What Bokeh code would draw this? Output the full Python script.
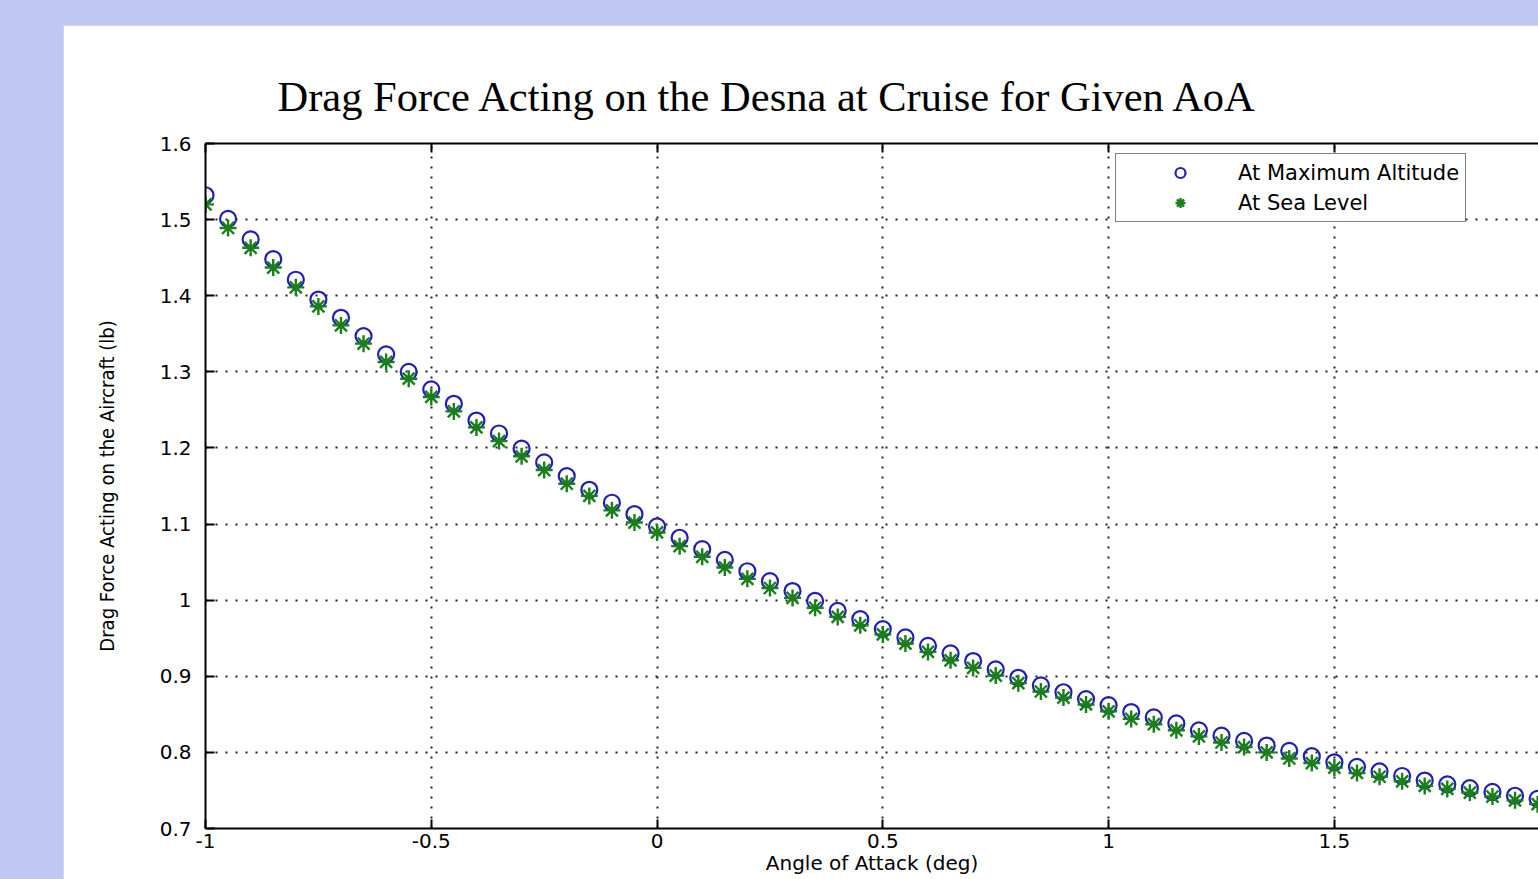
from bokeh.plotting import figure
from bokeh.layouts import row, column
from bokeh.models import (LinearAxis, FixedTicker, Legend, LegendItem,
                          Range1d, Spacer)
from bokeh.embed import file_html
from bokeh.resources import INLINE

# ---------------- data ----------------
aoa = [-1.00, -0.95, -0.90, -0.85, -0.80, -0.75, -0.70, -0.65, -0.60, -0.55,
       -0.50, -0.45, -0.40, -0.35, -0.30, -0.25, -0.20, -0.15, -0.10, -0.05,
       0.00, 0.05, 0.10, 0.15, 0.20, 0.25, 0.30, 0.35, 0.40, 0.45,
       0.50, 0.55, 0.60, 0.65, 0.70, 0.75, 0.80, 0.85, 0.90, 0.95,
       1.00, 1.05, 1.10, 1.15, 1.20, 1.25, 1.30, 1.35, 1.40, 1.45,
       1.50, 1.55, 1.60, 1.65, 1.70, 1.75, 1.80, 1.85, 1.90, 1.95]

drag_max_alt = [1.532, 1.501, 1.474, 1.448, 1.421, 1.395, 1.371, 1.347, 1.323, 1.300,
                1.277, 1.258, 1.236, 1.219, 1.199, 1.181, 1.163, 1.145, 1.128, 1.113,
                1.097, 1.082, 1.067, 1.053, 1.038, 1.025, 1.012, 0.999, 0.986, 0.975,
                0.962, 0.951, 0.940, 0.930, 0.920, 0.909, 0.898, 0.888, 0.879, 0.870,
                0.862, 0.853, 0.846, 0.838, 0.829, 0.822, 0.815, 0.809, 0.802, 0.795,
                0.787, 0.781, 0.775, 0.769, 0.763, 0.758, 0.753, 0.748, 0.743, 0.739]

drag_sea_level = [1.520, 1.489, 1.463, 1.437, 1.411, 1.386, 1.361, 1.337, 1.313, 1.291,
                  1.267, 1.248, 1.227, 1.209, 1.189, 1.171, 1.153, 1.137, 1.118, 1.102,
                  1.089, 1.071, 1.057, 1.043, 1.028, 1.016, 1.003, 0.990, 0.978, 0.967,
                  0.955, 0.943, 0.932, 0.921, 0.911, 0.901, 0.891, 0.880, 0.872, 0.863,
                  0.854, 0.844, 0.837, 0.829, 0.821, 0.813, 0.807, 0.800, 0.792, 0.786,
                  0.780, 0.773, 0.768, 0.762, 0.756, 0.752, 0.747, 0.742, 0.737, 0.732]

x_ticks = [-1, -0.5, 0, 0.5, 1, 1.5, 2]
x_tick_labels = ["-1", "-0.5", "0", "0.5", "1", "1.5", "2"]
y_ticks = [0.7, 0.8, 0.9, 1.0, 1.1, 1.2, 1.3, 1.4, 1.5, 1.6]
y_tick_labels = ["0.7", "0.8", "0.9", "1", "1.1", "1.2", "1.3", "1.4", "1.5", "1.6"]

series_names = ["At Maximum Altitude", "At Sea Level"]
title_text = "Drag Force Acting on the Desna at Cruise for Given AoA"
x_label = "Angle of Attack (deg)"
y_label = "Drag Force Acting on the Aircraft (lb)"

# ---------------- styling ----------------
BG = "#bfc8f0"
BLUE = "#1f1fb8"
GREEN = "#1a7f1a"
TICK_FONT = "DejaVu Sans"
NARROW = "DejaVu Sans Condensed, Liberation Sans Narrow, Liberation Sans"

FIG_W, FIG_H = 1475, 854
y_lo, y_hi = 0.7, 1.6
x_lo, x_hi = -1.0, 1.952

p = figure(width=FIG_W, height=FIG_H,
           x_range=Range1d(x_lo, x_hi), y_range=Range1d(y_lo, y_hi),
           output_backend="svg", toolbar_location=None,
           min_border_left=142, min_border_top=118,
           min_border_bottom=51, min_border_right=0)
p.background_fill_color = "white"
p.border_fill_color = "white"
p.outline_line_color = None

# title
p.title.text = title_text
p.title.text_font = "Liberation Serif"
p.title.text_font_style = "normal"
p.title.text_font_size = "42.5px"
p.title.text_color = "black"
p.title.align = "left"
p.title.offset = 72
p.title.standoff = 48

# axes
for ax in (p.xaxis[0], p.yaxis[0]):
    ax.axis_line_width = 2
    ax.axis_line_color = "black"
    ax.major_tick_in = 9
    ax.major_tick_out = 0
    ax.major_tick_line_width = 2
    ax.major_tick_line_color = "black"
    ax.minor_tick_line_color = None
    ax.major_label_text_font = TICK_FONT
    ax.major_label_text_font_size = "20px"
    ax.major_label_text_color = "black"

p.xaxis[0].ticker = FixedTicker(ticks=x_ticks)
p.xaxis[0].major_label_overrides = dict(zip(x_ticks, x_tick_labels))
p.xaxis[0].major_label_standoff = 5
p.xaxis[0].axis_label = x_label
p.xaxis[0].axis_label_text_font = TICK_FONT
p.xaxis[0].axis_label_text_font_style = "normal"
p.xaxis[0].axis_label_text_font_size = "20px"
p.xaxis[0].axis_label_text_color = "black"
p.xaxis[0].axis_label_standoff = 0

p.yaxis[0].ticker = FixedTicker(ticks=y_ticks)
p.yaxis[0].major_label_overrides = dict(zip(y_ticks, y_tick_labels))
p.yaxis[0].major_label_standoff = 14
p.yaxis[0].axis_label = y_label
p.yaxis[0].axis_label_text_font = NARROW
p.yaxis[0].axis_label_text_font_style = "normal"
p.yaxis[0].axis_label_text_font_size = "20px"
p.yaxis[0].axis_label_text_color = "black"
p.yaxis[0].axis_label_standoff = 38

# top border with inward ticks (box on), no labels
top_axis = LinearAxis(ticker=FixedTicker(ticks=x_ticks),
                      major_label_overrides={t: "" for t in x_ticks},
                      major_label_standoff=0,
                      axis_line_width=2, major_tick_in=9, major_tick_out=0,
                      major_tick_line_width=2, minor_tick_line_color=None)
p.add_layout(top_axis, "above")

# grid
for g in (p.xgrid[0], p.ygrid[0]):
    g.grid_line_color = "#222222"
    g.grid_line_width = 2
    g.grid_line_dash = "2 8"
p.xgrid[0].ticker = FixedTicker(ticks=x_ticks)
p.ygrid[0].ticker = FixedTicker(ticks=y_ticks)

# data
r_alt = p.scatter(aoa, drag_max_alt, marker="circle", size=16,
                  fill_color=None, line_color=BLUE, line_width=2.2)
r_sea = p.scatter(aoa, drag_sea_level, marker="asterisk", size=17,
                  line_color=GREEN, line_width=2.4)

legend = Legend(items=[LegendItem(label=series_names[0], renderers=[r_alt]),
                       LegendItem(label=series_names[1], renderers=[r_sea])],
                location=(910, 606))
legend.label_text_font = TICK_FONT
legend.label_text_font_size = "21px"
legend.label_text_color = "black"
legend.padding = 6
legend.spacing = 5
legend.glyph_width = 116
legend.glyph_height = 25
legend.label_height = 25
legend.label_standoff = 0
legend.border_line_color = "black"
legend.border_line_width = 1.5
legend.background_fill_color = "white"
legend.background_fill_alpha = 1.0
legend.margin = 0
p.add_layout(legend)

layout = row(Spacer(width=63, height=FIG_H + 25),
             column(Spacer(width=FIG_W, height=25), p),
             styles={"background-color": BG})

open("out.html", "w").write(file_html(layout, INLINE))
